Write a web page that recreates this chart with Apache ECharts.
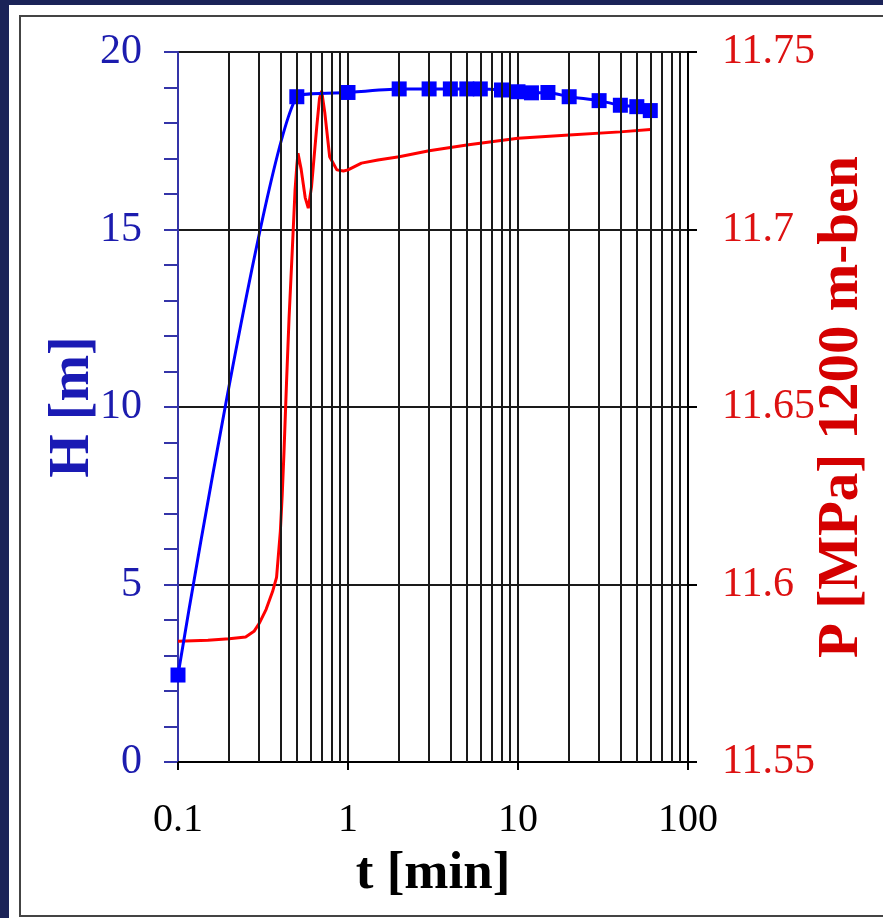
<!DOCTYPE html>
<html>
<head>
<meta charset="utf-8">
<script src="https://cdn.jsdelivr.net/npm/echarts@6/dist/echarts.min.js"></script>
<style>
  html, body { margin: 0; padding: 0; width: 883px; height: 918px; overflow: hidden; background: #1b2358; }
  #paper { position: absolute; left: 9px; top: 5px; width: 900px; height: 940px; background: #ffffff; }
  #frame { position: absolute; left: 19px; top: 15px; width: 900px; height: 898px; border: 2px solid #444; }
  #chart { position: absolute; left: 0; top: 0; width: 883px; height: 918px; }
</style>
</head>
<body>
<div id="paper"></div>
<div id="frame"></div>
<div id="chart"></div>
<script>
// ---- data ----
const hTime = [0.1, 0.5, 1, 2, 3, 4, 5, 6, 8, 10, 12, 15, 20, 30, 40, 50, 60];
const hValue = [2.45, 18.74, 18.86, 18.96, 18.96, 18.96, 18.96, 18.96, 18.93, 18.88, 18.85, 18.86, 18.74, 18.63, 18.5, 18.46, 18.35];

const pTime = [0.1, 0.15, 0.2, 0.25, 0.28, 0.3, 0.33, 0.36, 0.38, 0.4, 0.41, 0.42, 0.435, 0.45, 0.47, 0.488, 0.5, 0.508,
               0.53, 0.56, 0.584, 0.61, 0.655, 0.68, 0.70, 0.73, 0.78, 0.86, 0.94, 1.0, 1.2, 1.5, 2, 3, 5, 10, 20, 40, 60];
const pValue = [11.584, 11.5843, 11.5847, 11.5852, 11.5868, 11.589, 11.593, 11.598, 11.602, 11.615, 11.625, 11.637, 11.657, 11.675, 11.694, 11.711, 11.718, 11.7215,
                11.717, 11.709, 11.706, 11.712, 11.729, 11.737, 11.739, 11.733, 11.7205, 11.7168, 11.7165, 11.7168, 11.7187, 11.7196, 11.7205, 11.7222, 11.7238, 11.7257, 11.7266, 11.7275, 11.7282];

const xTickLabels = ['0.1', '1', '10', '100'];
const hTicks = [0, 5, 10, 15, 20];
const pTicks = ['11.55', '11.6', '11.65', '11.7', '11.75'];
const minorGridT = [0.2, 0.3, 0.4, 0.5, 0.6, 0.7, 0.8, 0.9,
                    2, 3, 4, 5, 6, 7, 8, 9,
                    20, 30, 40, 50, 60, 70, 80, 90];

const FONT = '"Liberation Serif", "Times New Roman", serif';
const GRIDC = '#1a1a1a';
const chart = echarts.init(document.getElementById('chart'), null, { renderer: 'canvas' });

const option = {
  backgroundColor: 'transparent',
  animation: false,
  grid: { left: 178, right: 195, top: 52, bottom: 156, containLabel: false, outerBoundsMode: 'none' },
  xAxis: {
    type: 'log', logBase: 10, min: 0.1, max: 100,
    name: 't [min]', nameLocation: 'middle', nameGap: 86, nameMoveOverlap: false,
    nameTextStyle: { fontFamily: FONT, fontSize: 53, fontWeight: 'bold', color: '#000' },
    axisLine: { lineStyle: { color: '#000', width: 2 } },
    axisTick: { show: true, inside: false, length: 8, lineStyle: { color: '#000', width: 2 } },
    axisLabel: {
      margin: 38, fontFamily: FONT, fontSize: 40, color: '#000', hideOverlap: false,
      formatter: function (v) {
        const s = String(+v.toPrecision(3));
        return xTickLabels.indexOf(s) >= 0 ? s : '';
      }
    },
    splitLine: { show: true, lineStyle: { color: GRIDC, width: 2 } },
    minorTick: { show: false }, minorSplitLine: { show: false }
  },
  yAxis: [
    {
      type: 'value', min: 0, max: 20, interval: 5, position: 'left',
      name: 'H [m]', nameLocation: 'middle', nameGap: 76, nameMoveOverlap: false,
      nameTextStyle: { fontFamily: FONT, fontSize: 56, fontWeight: 'bold', color: '#1a1ab4' },
      axisLine: { show: true, lineStyle: { color: '#3434a8', width: 2 } },
      axisTick: { show: true, inside: false, length: 14, lineStyle: { color: '#3434a8', width: 2 } },
      minorTick: { show: true, splitNumber: 5, length: 14, lineStyle: { color: '#3434a8', width: 2 } },
      axisLabel: {
        margin: 36, fontFamily: FONT, fontSize: 42, color: '#1c1cae',
        formatter: function (v) { return hTicks.indexOf(v) >= 0 ? String(v) : ''; }
      },
      splitLine: { show: true, lineStyle: { color: GRIDC, width: 2 } }
    },
    {
      type: 'value', min: 11.55, max: 11.75, interval: 0.05, position: 'right',
      name: 'P [MPa] 1200 m-ben', nameLocation: 'middle', nameGap: 126, nameMoveOverlap: false,
      nameTextStyle: { fontFamily: FONT, fontSize: 57, fontWeight: 'bold', color: '#d40000' },
      axisLine: { show: true, lineStyle: { color: '#000', width: 2 } },
      axisTick: { show: true, inside: false, length: 9, lineStyle: { color: '#000', width: 2 } },
      axisLabel: {
        margin: 34, fontFamily: FONT, fontSize: 42, color: '#dd1111',
        formatter: function (v) {
          const s = String(+v.toFixed(2));
          return pTicks.indexOf(s) >= 0 ? s : '';
        }
      },
      splitLine: { show: false }
    }
  ],
  series: [
    {
      name: 'grid', type: 'line', data: [], z: 1, silent: true,
      markLine: {
        silent: true, symbol: ['none', 'none'], animation: false,
        label: { show: false },
        lineStyle: { color: GRIDC, width: 2, type: 'solid' },
        data: minorGridT.map(function (t) { return { xAxis: t }; })
      }
    },
    {
      name: 'P', type: 'line', yAxisIndex: 1, z: 3,
      data: pTime.map(function (t, i) { return [t, pValue[i]]; }),
      showSymbol: false, symbol: 'none', smooth: false,
      lineStyle: { color: '#ff0000', width: 3 }
    },
    {
      name: 'H', type: 'line', yAxisIndex: 0, z: 4,
      data: hTime.map(function (t, i) { return [t, hValue[i]]; }),
      symbol: 'rect', symbolSize: 15, showSymbol: true, smooth: 0.2,
      itemStyle: { color: '#0000ff' },
      lineStyle: { color: '#0000ff', width: 3 }
    }
  ]
};
chart.setOption(option);
</script>
</body>
</html>
